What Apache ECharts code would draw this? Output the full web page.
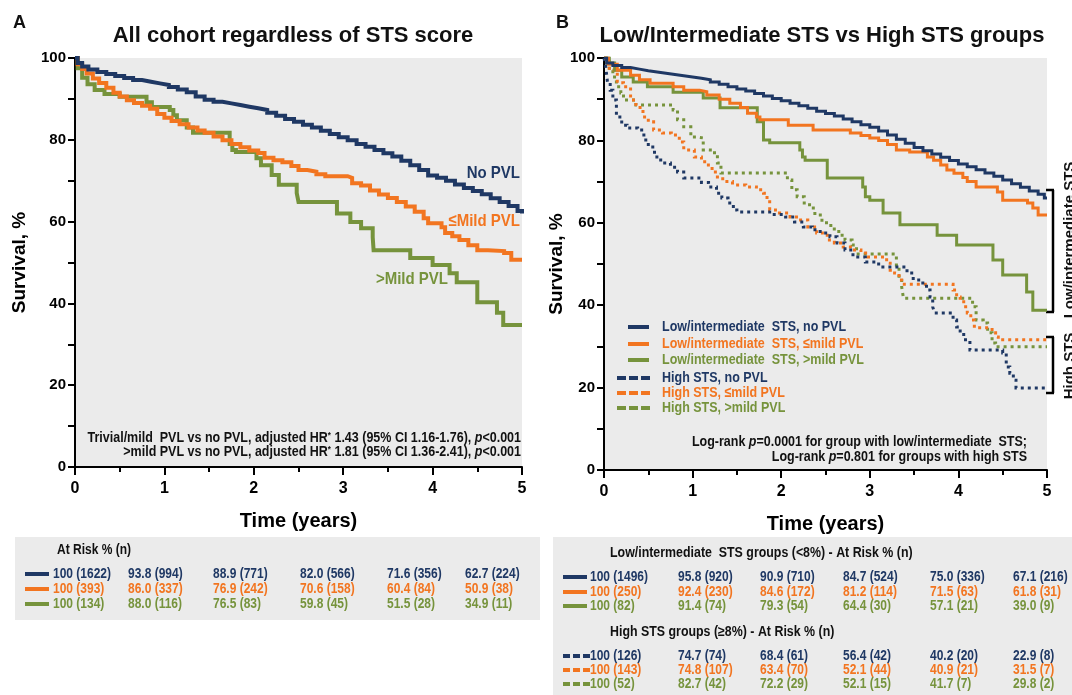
<!DOCTYPE html>
<html><head><meta charset="utf-8">
<script src="https://cdn.jsdelivr.net/npm/echarts@6/dist/echarts.min.js"></script>
<style>html,body{margin:0;padding:0;background:#fff}#c{width:1072px;height:695px}</style>
</head><body><div id="c"></div>
<script>
// ---------- DATA ----------
// Panel A: all cohort, [time (years), survival %]
const noPvlA = [[0,100],[0.03,98.8],[0.08,97.9],[0.15,97.2],[0.25,96.6],[0.35,96.1],[0.45,95.6],[0.55,95.1],[0.65,94.6],[0.75,94.2],[0.85,93.8],[0.95,93.4],[1.05,92.9],[1.15,92.3],[1.25,91.6],[1.35,90.6],[1.45,89.8],[1.55,89.3],[1.65,88.9],[1.75,88.5],[1.85,88.1],[1.95,87.7],[2.05,87.3],[2.15,86.6],[2.25,85.9],[2.35,85.1],[2.45,84.4],[2.55,83.7],[2.65,83.0],[2.75,82.2],[2.85,81.4],[2.95,80.6],[3.05,79.9],[3.15,79.0],[3.25,78.3],[3.35,77.5],[3.45,76.7],[3.55,75.9],[3.65,74.9],[3.75,73.8],[3.85,72.6],[3.95,71.3],[4.05,70.7],[4.15,70.0],[4.25,69.1],[4.35,68.2],[4.45,67.5],[4.55,66.7],[4.65,65.7],[4.75,64.8],[4.85,63.8],[4.95,62.6],[5.0,62.0]];
const mildPvlA = [[0,100],[0.03,98.5],[0.08,97.3],[0.13,96.2],[0.2,95.0],[0.27,93.9],[0.35,92.7],[0.43,91.5],[0.5,90.6],[0.58,89.7],[0.66,89.0],[0.75,88.3],[0.84,87.6],[0.92,86.3],[1.0,85.4],[1.08,84.6],[1.17,83.8],[1.27,83.0],[1.37,82.3],[1.45,81.7],[1.55,80.8],[1.65,79.9],[1.75,79.0],[1.85,78.2],[1.95,77.4],[2.05,76.8],[2.12,75.6],[2.22,75.0],[2.32,74.5],[2.42,73.6],[2.5,72.6],[2.6,72.2],[2.7,71.6],[2.8,71.1],[3.05,70.7],[3.1,69.4],[3.2,68.8],[3.3,67.6],[3.4,66.6],[3.5,65.8],[3.6,64.8],[3.7,63.7],[3.8,62.4],[3.9,60.8],[3.95,59.6],[4.1,58.6],[4.14,57.2],[4.22,56.4],[4.3,55.5],[4.4,54.2],[4.5,53.0],[4.62,52.8],[4.8,52.3],[4.88,50.7],[5.0,50.7]];
const severePvlA = [[0,100],[0.03,97.5],[0.08,95.2],[0.14,93.6],[0.22,92.2],[0.33,91.2],[0.5,90.5],[0.8,89.2],[0.86,88.0],[1.06,87.3],[1.1,86.0],[1.14,84.8],[1.25,83.0],[1.32,81.7],[1.73,79.0],[1.76,77.5],[1.8,77.0],[2.03,75.5],[2.08,73.8],[2.2,71.4],[2.28,69.0],[2.48,67.0],[2.5,64.8],[2.93,62.0],[3.08,59.9],[3.2,58.4],[3.33,56.2],[3.34,53.0],[3.75,51.1],[4.0,49.4],[4.19,47.4],[4.27,45.2],[4.5,40.3],[4.72,37.7],[4.79,34.7],[5.0,34.7]];
// Panel B: low/intermediate STS (solid) and high STS (dotted)
const lowNoPvlB = [[0,100],[0.03,98.8],[0.1,98.2],[0.2,97.7],[0.3,97.3],[0.4,96.9],[0.5,96.6],[0.6,96.3],[0.7,96.0],[0.8,95.7],[0.9,95.4],[1.0,95.1],[1.1,94.7],[1.2,94.2],[1.3,93.6],[1.4,93.0],[1.5,92.5],[1.6,92.0],[1.7,91.4],[1.8,90.8],[1.9,90.2],[2.0,89.6],[2.1,89.0],[2.2,88.4],[2.3,87.8],[2.4,87.1],[2.5,86.5],[2.6,85.9],[2.7,85.2],[2.8,84.5],[2.9,83.8],[3.0,83.2],[3.1,82.3],[3.2,81.3],[3.3,80.3],[3.4,79.3],[3.5,78.3],[3.6,77.5],[3.7,76.7],[3.8,75.9],[3.9,75.1],[4.0,74.3],[4.1,73.6],[4.2,72.9],[4.3,72.1],[4.4,71.3],[4.5,70.4],[4.6,69.5],[4.7,68.6],[4.8,67.7],[4.9,66.9],[4.97,66.0],[5.0,66.0]];
const lowMildPvlB = [[0,100],[0.05,98.5],[0.15,97.0],[0.3,95.8],[0.4,94.7],[0.52,93.9],[0.78,93.0],[0.9,92.2],[1.08,91.8],[1.16,91.0],[1.3,90.0],[1.42,89.0],[1.54,88.0],[1.62,86.6],[1.72,85.7],[1.76,85.0],[2.08,83.7],[2.36,82.5],[2.78,81.8],[2.9,81.2],[3.0,80.6],[3.1,80.0],[3.2,79.0],[3.3,77.7],[3.45,77.2],[3.65,76.0],[3.72,75.2],[3.8,74.0],[3.87,72.8],[3.95,72.0],[4.05,71.0],[4.1,70.0],[4.2,68.7],[4.44,67.5],[4.5,65.5],[4.78,64.8],[4.84,63.6],[4.9,61.9],[5.0,61.9]];
const lowSeverePvlB = [[0,100],[0.06,98.8],[0.12,97.0],[0.2,95.4],[0.33,94.2],[0.49,93.0],[0.78,91.7],[1.12,90.3],[1.31,87.9],[1.73,84.5],[1.8,80.1],[1.87,79.4],[2.21,77.7],[2.24,76.0],[2.27,75.2],[2.52,70.9],[2.92,68.7],[2.95,66.3],[3.0,65.5],[3.15,62.4],[3.34,59.5],[3.76,57.0],[3.98,54.6],[4.39,51.0],[4.5,47.3],[4.77,43.2],[4.84,38.8],[5.0,38.8]];
const highNoPvlB = [[0,100],[0.02,97.8],[0.04,94.0],[0.07,92.2],[0.1,89.8],[0.14,85.7],[0.2,83.7],[0.26,83.0],[0.38,82.5],[0.45,80.1],[0.5,78.4],[0.57,76.0],[0.64,74.5],[0.75,73.5],[0.83,72.3],[0.9,70.9],[1.1,69.8],[1.18,68.7],[1.27,67.2],[1.33,66.0],[1.4,64.8],[1.46,63.1],[1.5,62.6],[1.9,62.0],[2.05,61.4],[2.15,60.2],[2.25,59.0],[2.35,58.3],[2.44,57.5],[2.55,56.6],[2.63,55.1],[2.72,53.4],[2.81,51.7],[2.95,50.5],[3.1,49.3],[3.42,47.8],[3.49,46.1],[3.57,45.4],[3.64,43.7],[3.68,42.0],[3.71,39.6],[3.73,38.1],[3.94,36.4],[3.98,34.7],[4.02,33.3],[4.06,31.6],[4.13,29.1],[4.5,28.4],[4.54,25.0],[4.58,23.5],[4.62,21.8],[4.65,19.9],[5.0,19.9]];
const highMildPvlB = [[0,100],[0.06,97.0],[0.15,94.0],[0.22,93.0],[0.3,89.8],[0.36,88.0],[0.44,85.7],[0.5,84.5],[0.56,82.5],[0.66,81.8],[0.76,81.3],[0.85,79.6],[0.9,77.7],[1.02,76.0],[1.1,74.8],[1.16,74.0],[1.22,72.3],[1.28,71.1],[1.34,70.0],[1.45,69.2],[1.6,68.7],[1.72,68.0],[1.8,67.2],[1.84,65.5],[1.87,63.1],[1.98,62.4],[2.1,61.4],[2.2,60.7],[2.3,59.0],[2.4,57.5],[2.52,55.8],[2.6,55.1],[2.7,54.1],[2.8,53.4],[2.9,52.7],[2.97,51.7],[3.19,50.2],[3.23,48.5],[3.28,47.8],[3.33,46.1],[3.36,45.1],[3.94,43.7],[3.98,42.0],[4.02,41.3],[4.06,39.6],[4.1,38.1],[4.14,36.4],[4.18,34.5],[4.38,33.3],[4.42,32.3],[4.45,31.6],[5.0,31.6]];
const highSeverePvlB = [[0,100],[0.03,98.8],[0.06,97.0],[0.1,95.4],[0.14,93.0],[0.19,91.5],[0.22,89.8],[0.36,88.6],[0.78,87.4],[0.83,85.0],[0.9,83.3],[0.98,80.8],[1.05,80.6],[1.12,77.7],[1.2,77.0],[1.28,74.5],[1.32,72.1],[2.07,70.4],[2.12,68.0],[2.18,66.3],[2.26,64.8],[2.32,63.6],[2.38,61.9],[2.46,60.0],[2.56,58.5],[2.65,57.0],[2.72,55.8],[2.8,54.6],[2.85,52.4],[3.3,49.3],[3.33,46.6],[3.36,44.4],[3.38,41.7],[4.16,39.6],[4.2,36.4],[4.28,35.7],[4.33,33.3],[4.38,30.8],[4.42,29.9],[5.0,29.9]];

// At-risk tables: survival % and (n) at years 0..5
const atRiskPctA_none = [100,93.8,88.9,82.0,71.6,62.7];
const atRiskNA_none   = [1622,994,771,566,356,224];
const atRiskPctA_mild = [100,86.0,76.9,70.6,60.4,50.9];
const atRiskNA_mild   = [393,337,242,158,84,38];
const atRiskPctA_sev  = [100,88.0,76.5,59.8,51.5,34.9];
const atRiskNA_sev    = [134,116,83,45,28,11];
const atRiskPctLow_none = [100,95.8,90.9,84.7,75.0,67.1];
const atRiskNLow_none   = [1496,920,710,524,336,216];
const atRiskPctLow_mild = [100,92.4,84.6,81.2,71.5,61.8];
const atRiskNLow_mild   = [250,230,172,114,63,31];
const atRiskPctLow_sev  = [100,91.4,79.3,64.4,57.1,39.0];
const atRiskNLow_sev    = [82,74,54,30,21,9];
const atRiskPctHigh_none = [100,74.7,68.4,56.4,40.2,22.9];
const atRiskNHigh_none   = [126,74,61,42,20,8];
const atRiskPctHigh_mild = [100,74.8,63.4,52.1,40.9,31.5];
const atRiskNHigh_mild   = [143,107,70,44,21,7];
const atRiskPctHigh_sev  = [100,82.7,72.2,52.1,41.7,29.8];
const atRiskNHigh_sev    = [52,42,29,15,7,2];

const legendLabelsB = ['Low/intermediate  STS, no PVL','Low/intermediate  STS, \u2264mild PVL','Low/intermediate  STS, >mild PVL','High STS, no PVL','High STS, \u2264mild PVL','High STS, >mild PVL'];

// ---------- STYLE ----------
const NAVY = '#1f3864', ORANGE = '#f27520', GREEN = '#76933c', BLACK = '#111';
const FF = '"Liberation Sans", Arial, sans-serif';
const font = (s) => 'bold ' + s + 'px ' + FF;

const chart = echarts.init(document.getElementById('c'), null, {renderer:'canvas'});

function xAx(gi){ return {gridIndex:gi, type:'value', min:0, max:5, interval:1,
  axisLine:{show:true, onZero:false, lineStyle:{color:'#000', width:2}},
  axisTick:{show:true, length:8, lineStyle:{color:'#000', width:2}},
  minorTick:{show:true, splitNumber:2, length:5, lineStyle:{color:'#000', width:2}},
  axisLabel:{color:'#000', fontSize:16, fontWeight:'bold', fontFamily:FF, margin:14},
  splitLine:{show:false}, minorSplitLine:{show:false},
  name:'Time (years)', nameLocation:'middle', nameGap:44,
  nameTextStyle:{color:'#000', fontSize:20, fontWeight:'bold', fontFamily:FF}}; }
function yAx(gi, gap){ return {gridIndex:gi, type:'value', min:0, max:100, interval:20,
  axisLine:{show:true, onZero:false, lineStyle:{color:'#000', width:2}},
  axisTick:{show:true, length:7, lineStyle:{color:'#000', width:2}},
  minorTick:{show:true, splitNumber:2, length:7, lineStyle:{color:'#000', width:2}},
  axisLabel:{color:'#000', fontSize:15, fontWeight:'bold', fontFamily:FF, margin:9},
  splitLine:{show:false}, minorSplitLine:{show:false},
  name:'Survival, %', nameLocation:'middle', nameGap:gap, nameRotate:90,
  nameTextStyle:{color:'#000', fontSize:19, fontWeight:'bold', fontFamily:FF}}; }

function km(name, data, color, width, dotted, gi, z){ return {name, type:'line', step:'end', data,
  xAxisIndex:gi, yAxisIndex:gi, showSymbol:false, symbol:'none', animation:false, z:z||2,
  lineStyle:{color, width, type: dotted ? [3,4] : 'solid', cap:'butt', join:'miter'}}; }

// ---------- GRAPHIC (texts, legend, tables) ----------
const G = [];
function txt(x, y, text, size, fill, align, extra){ G.push(Object.assign({type:'text', x, y, silent:true,
  style:{text, font:font(size), fill, align:align||'left', verticalAlign:'middle'}}, extra||{})); }
function rect(x, y, w, h, fill){ G.push({type:'rect', silent:true, shape:{x, y, width:w, height:h}, style:{fill}, z:-1}); }
function seg(x1, y1, x2, y2, stroke, w){ G.push({type:'line', silent:true, shape:{x1, y1, x2, y2}, style:{stroke, lineWidth:w}}); }
const TALL = {scaleY:1.15};

// panel letters & titles
txt(13, 23, 'A', 18, BLACK);
txt(556, 23, 'B', 18, BLACK);
txt(293, 36, 'All cohort regardless of STS score', 22, BLACK, 'center');
txt(822, 36, 'Low/Intermediate STS vs High STS groups', 22, BLACK, 'center');

// panel A curve labels
txt(520, 173, 'No PVL', 15, NAVY, 'right', TALL);
txt(520, 221, '\u2264Mild PVL', 15, ORANGE, 'right', TALL);
txt(448, 279, '>Mild PVL', 15, GREEN, 'right', TALL);

// panel A HR text / panel B log-rank text
const FS = 12.5;
const rs = {n:{fontSize:FS, fontWeight:'bold', fontFamily:FF, fill:BLACK}, s:{fontSize:8, fontWeight:'bold', fontFamily:FF, fill:BLACK, padding:[0,0,5,0]}, i:{fontSize:FS, fontWeight:'bold', fontStyle:'italic', fontFamily:FF, fill:BLACK}};
function rich(x, y, text){ G.push({type:'text', x, y, silent:true, scaleY:1.12, style:{text, rich:rs, align:'right', verticalAlign:'middle'}}); }
rich(521, 438, '{n|Trivial/mild  PVL vs no PVL, adjusted HR}{s|*}{n| 1.43 (95% CI 1.16-1.76), }{i|p}{n|<0.001}');
rich(521, 452, '{n|>mild PVL vs no PVL, adjusted HR}{s|*}{n| 1.81 (95% CI 1.36-2.41), }{i|p}{n|<0.001}');
rich(1027, 442, '{n|Log-rank }{i|p}{n|=0.0001 for group with low/intermediate  STS;}');
rich(1027, 457, '{n|Log-rank }{i|p}{n|=0.801 for groups with high STS}');

// panel B legend
const legColors = [NAVY, ORANGE, GREEN, NAVY, ORANGE, GREEN];
const legY = [327, 344, 360, 378, 393, 408];
legendLabelsB.forEach((lab, i) => {
  if (i < 3) seg(628, legY[i], 649, legY[i], legColors[i], 4);
  else { for (let k = 0; k < 3; k++) seg(617 + k*12, legY[i], 626 + k*12, legY[i], legColors[i], 4); }
  txt(662, legY[i], lab, 12.5, legColors[i], 'left', {scaleY:1.2});
});

// brackets at right of panel B
function bracket(y1, y2){ seg(1053, y1, 1053, y2, '#000', 2.5); seg(1046, y1, 1054, y1, '#000', 2.5); seg(1046, y2, 1054, y2, '#000', 2.5); }
bracket(190, 312); bracket(337, 393);
txt(1070, 240, 'Low/intermediate STS', 15, BLACK, 'center', {rotation:Math.PI/2});
txt(1070, 366, 'High STS', 15, BLACK, 'center', {rotation:Math.PI/2});

// at-risk tables
const fmt = (p, n) => (p === 100 ? '100' : p.toFixed(1)) + ' (' + n + ')';
function tableRows(colsX, rowsY, pcts, ns, colors){
  rowsY.forEach((y, r) => { colsX.forEach((x, c) => txt(x, y, fmt(pcts[r][c], ns[r][c]), 12, colors[r], 'left', TALL)); });
}
rect(15, 537, 525, 83, '#ebebeb');
txt(57, 550, 'At Risk % (n)', 12, BLACK, 'left', TALL);
const rowsA = [574, 589, 604];
[NAVY, ORANGE, GREEN].forEach((c, i) => seg(25, rowsA[i], 49, rowsA[i], c, 4));
tableRows([53, 128, 213, 300, 387, 465], rowsA,
  [atRiskPctA_none, atRiskPctA_mild, atRiskPctA_sev], [atRiskNA_none, atRiskNA_mild, atRiskNA_sev], [NAVY, ORANGE, GREEN]);

rect(553, 537, 519, 158, '#ebebeb');
txt(610, 553, 'Low/intermediate  STS groups (<8%) - At Risk % (n)', 12.4, BLACK, 'left', TALL);
txt(610, 632, 'High STS groups (\u22658%) - At Risk % (n)', 12.4, BLACK, 'left', TALL);
const colsB = [590, 678, 760, 843, 930, 1013];
const rowsLow = [577, 592, 606], rowsHigh = [656, 670, 684];
[NAVY, ORANGE, GREEN].forEach((c, i) => {
  seg(563, rowsLow[i], 587, rowsLow[i], c, 4);
  for (let k = 0; k < 3; k++) seg(563 + k*10, rowsHigh[i], 570 + k*10, rowsHigh[i], c, 4);
});
tableRows(colsB, rowsLow, [atRiskPctLow_none, atRiskPctLow_mild, atRiskPctLow_sev], [atRiskNLow_none, atRiskNLow_mild, atRiskNLow_sev], [NAVY, ORANGE, GREEN]);
tableRows(colsB, rowsHigh, [atRiskPctHigh_none, atRiskPctHigh_mild, atRiskPctHigh_sev], [atRiskNHigh_none, atRiskNHigh_mild, atRiskNHigh_sev], [NAVY, ORANGE, GREEN]);

chart.setOption({
  animation:false,
  backgroundColor:'#ffffff',
  textStyle:{fontFamily:FF},
  grid:[
    {left:75, top:58, width:447, height:409, show:true, backgroundColor:'#ebebeb', borderWidth:0, containLabel:false},
    {left:604, top:58, width:443, height:412, show:true, backgroundColor:'#ebebeb', borderWidth:0, containLabel:false}
  ],
  xAxis:[xAx(0), xAx(1)],
  yAxis:[yAx(0, 46), yAx(1, 38)],
  series:[
    km('>Mild PVL', severePvlA, GREEN, 4, false, 0, 2),
    km('\u2264Mild PVL', mildPvlA, ORANGE, 4, false, 0, 3),
    km('No PVL', noPvlA, NAVY, 4, false, 0, 4),
    km(legendLabelsB[5], highSeverePvlB, GREEN, 3, true, 1, 2),
    km(legendLabelsB[4], highMildPvlB, ORANGE, 3, true, 1, 2),
    km(legendLabelsB[3], highNoPvlB, NAVY, 3, true, 1, 2),
    km(legendLabelsB[2], lowSeverePvlB, GREEN, 3, false, 1, 3),
    km(legendLabelsB[1], lowMildPvlB, ORANGE, 3, false, 1, 3),
    km(legendLabelsB[0], lowNoPvlB, NAVY, 3, false, 1, 4)
  ],
  graphic:G
});
</script></body></html>
